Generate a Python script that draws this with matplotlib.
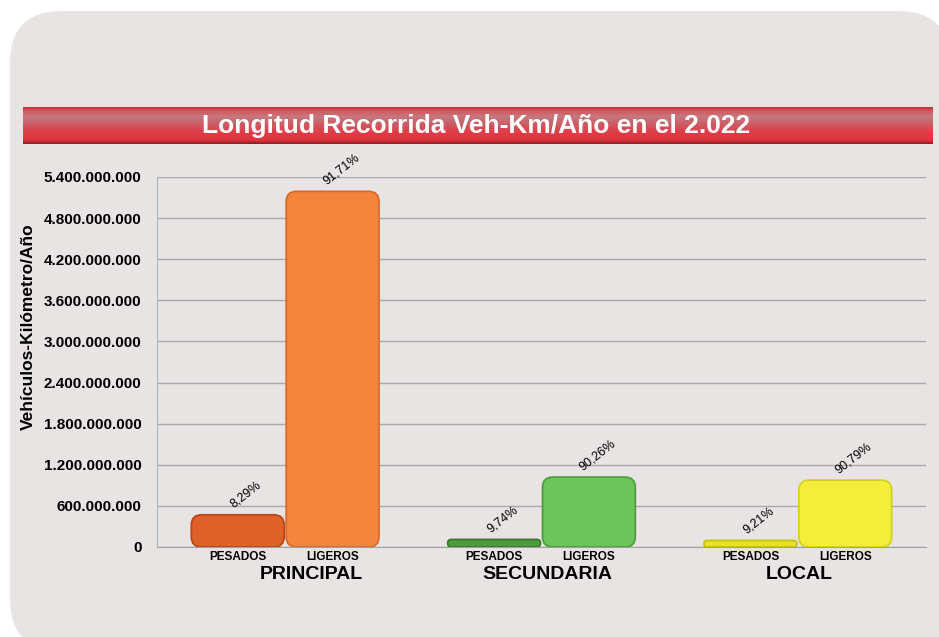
import matplotlib
matplotlib.use("Agg")
import matplotlib.pyplot as plt
import numpy as np
from matplotlib.patches import FancyBboxPatch
from matplotlib.colors import LinearSegmentedColormap

plt.rcParams["font.family"] = ["Liberation Sans", "DejaVu Sans"]

categorias = ["PRINCIPAL", "SECUNDARIA", "LOCAL"]
tipos = ["PESADOS", "LIGEROS"]
pesados = [470e6, 110e6, 95e6]
ligeros = [5190e6, 1020e6, 975e6]
pct_pesados = ["8,29%", "9,74%", "9,21%"]
pct_ligeros = ["91,71%", "90,26%", "90,79%"]
y_ticks = [0, 600e6, 1200e6, 1800e6, 2400e6, 3000e6, 3600e6, 4200e6, 4800e6, 5400e6]

col_pesados = ["#E0602A", "#4F9A3C", "#E8E225"]
col_ligeros = ["#F5843C", "#6CC45A", "#F2EE3A"]
edge_pesados = ["#B84818", "#3A7A2A", "#C8C010"]
edge_ligeros = ["#D86A28", "#4E9E40", "#D6D020"]

W, H = 939, 637
fig = plt.figure(figsize=(W / 100, H / 100), dpi=100)
fig.patch.set_facecolor("white")

# fondo gris redondeado
bg = fig.add_axes([0, 0, 1, 1])
bg.set_xlim(0, W)
bg.set_ylim(H, 0)
bg.axis("off")
bg.add_patch(FancyBboxPatch((10, 11), 940, 640, boxstyle="round,pad=0,rounding_size=52",
                            facecolor="#E8E4E3", edgecolor="none"))

# banda roja del titulo
bx0, bx1, by0, by1 = 23, 933, 107, 144
band = fig.add_axes([bx0 / W, 1 - by1 / H, (bx1 - bx0) / W, (by1 - by0) / H])
cmap = LinearSegmentedColormap.from_list("banda", [
    (0.0, "#B8303A"), (0.08, "#D85058"), (0.25, "#C47A80"), (0.45, "#CC5E66"),
    (0.7, "#E23A46"), (0.9, "#E0343F"), (1.0, "#8E1E26")])
band.imshow(np.linspace(0, 1, 64).reshape(-1, 1), aspect="auto", cmap=cmap,
            extent=[0, 1, 0, 1], origin="upper")
band.set_xlim(0, 1)
band.set_ylim(0, 1)
band.axis("off")
band.text(0.498, 0.5, "Longitud Recorrida Veh-Km/Año en el 2.022", color="white",
          fontsize=19, fontweight="bold", ha="center", va="center")

# grafico
ax = fig.add_axes([157 / W, 1 - 547 / H, (926 - 157) / W, (547 - 177) / H])
ax.set_facecolor("none")
ax.set_xlim(-0.5, 2.5)
ax.set_ylim(0, 5.4e9)
ax.set_yticks(y_ticks)
ax.set_yticklabels([f"{v:,.0f}".replace(",", ".") for v in y_ticks],
                   fontsize=11, fontweight="bold")
ax.tick_params(axis="y", length=0, pad=11)
ax.grid(axis="y", color="#A8A8A8", linewidth=1)
ax.set_axisbelow(True)
for s in ["top", "right"]:
    ax.spines[s].set_visible(False)
ax.spines["left"].set_color("#A8B4C4")
ax.spines["bottom"].set_color("#A0A0A0")

x = np.arange(len(categorias))
bw = 0.37
r1 = ax.bar(x - bw / 2, pesados, bw, color=col_pesados)
r2 = ax.bar(x + bw / 2, ligeros, bw, color=col_ligeros)

# barras con esquinas redondeadas
aspect = (5.4e9 / (547 - 177)) * ((926 - 157) / 3)
for rects, edges in [(r1, edge_pesados), (r2, edge_ligeros)]:
    for rect, ec in zip(rects, edges):
        rect.set_visible(False)
        x0, y0 = rect.get_x(), rect.get_y()
        w, h = rect.get_width(), rect.get_height()
        rs = min(0.04, h / aspect / 2)
        ax.add_patch(FancyBboxPatch((x0 + 0.004, y0), w - 0.008, h,
                                    boxstyle=f"round,pad=0,rounding_size={rs}",
                                    mutation_aspect=aspect, facecolor=rect.get_facecolor(),
                                    edgecolor=ec, linewidth=1.3, zorder=3))

for rects, labels in [(r1, pct_pesados), (r2, pct_ligeros)]:
    for rect, lab in zip(rects, labels):
        ax.annotate(lab, (rect.get_x() + rect.get_width() / 2, rect.get_height()),
                    xytext=(6, 3), textcoords="offset points", ha="center", va="bottom",
                    rotation=38, fontsize=9)

ax.set_xticks(np.concatenate([x - bw / 2, x + bw / 2]))
ax.set_xticklabels(tipos[:1] * 3 + tipos[1:] * 3, fontsize=8.5, fontweight="bold")
ax.tick_params(axis="x", length=0, pad=3)

cat_pos = [0.101, 1.022, 2.005]
for cx, name in zip(cat_pos, categorias):
    ax.text(cx, -0.075, name, transform=ax.get_xaxis_transform(), ha="center", va="center",
            fontsize=14, fontweight="bold")

fig.text(28 / W, 1 - 327 / H, "Vehículos-Kilómetro/Año", rotation=90, ha="center",
         va="center", fontsize=12.5, fontweight="bold")

fig.savefig("out.png", dpi=100)
